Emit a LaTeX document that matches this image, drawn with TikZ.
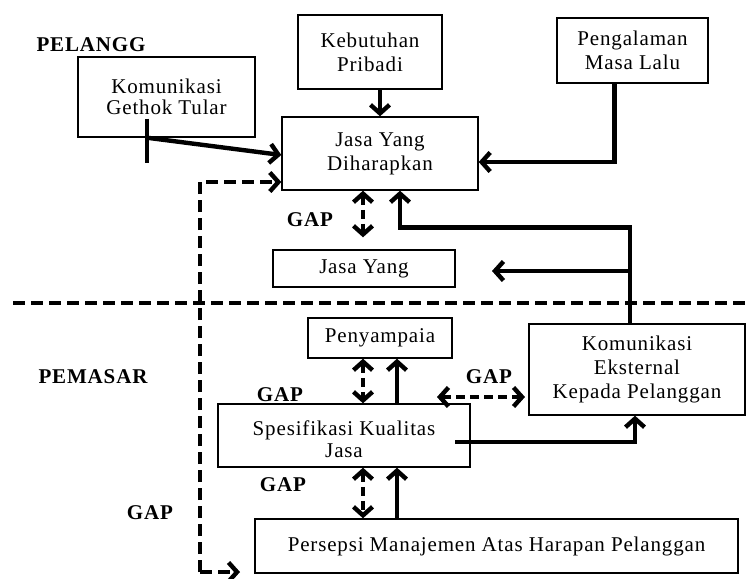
\documentclass[tikz,border=0pt]{standalone}
\usepackage{fontspec}
\setmainfont{Liberation Serif}[LetterSpace=4]
\usetikzlibrary{arrows.meta,calc}
\begin{document}
\begin{tikzpicture}[x=1pt,y=-1pt,
  box/.style={draw, line width=1.4pt, inner sep=0pt, align=center,
    font=\fontsize{21}{24}\selectfont},
  txt/.style={inner sep=0pt, align=center, font=\fontsize{21}{24}\selectfont},
  lbl/.style={inner sep=0pt, font=\fontsize{21}{24}\selectfont\bfseries},
  tip/.tip={Straight Barb[length=8.5pt,width=19pt]},
  arr/.style={line width=4.4pt, -tip},
  darr/.style={line width=4.4pt, dash pattern=on 9pt off 5pt, tip-tip},
  dline/.style={line width=4.4pt, dash pattern=on 12pt off 6pt}
]
\fill[white] (0,0) rectangle (748,579);
\useasboundingbox (0,0) rectangle (748,579);

% boxes
\node[box, minimum width=177pt, minimum height=80pt] (gethok) at (166.5,97) {Komunikasi\\[-3pt]Gethok Tular};
\node[box, minimum width=144pt, minimum height=74pt] (kebutuhan) at (370,52) {Kebutuhan\\Pribadi};
\node[box, minimum width=151pt, minimum height=65pt] (pengalaman) at (632.5,50.5) {Pengalaman\\Masa Lalu};
\node[box, minimum width=196pt, minimum height=73pt] (harap) at (380,153.5) {Jasa Yang\\Diharapkan};
\node[box, minimum width=182pt, minimum height=37pt] (rasa) at (364,268.5) {Jasa Yang};
\node[box, minimum width=144pt, minimum height=40pt] (sampai) at (380,338) {Penyampaia};
\node[box, minimum width=216pt, minimum height=91pt] (eksternal) at (637,369.5) {Komunikasi\\Eksternal\\Kepada Pelanggan};
\node[box, minimum width=252pt, minimum height=63pt] (spes) at (344,435.5) {};
\node[txt] (spestext) at (344,439) {Spesifikasi Kualitas\\[-2pt]Jasa};
\node[box, minimum width=483pt, minimum height=54pt] (persepsi) at (496.5,546) {Persepsi Manajemen Atas Harapan Pelanggan};

% labels
\node[lbl] (pelanggan) at (91,45) {PELANGG};
\node[lbl] (pemasar) at (93,377) {PEMASAR};
\node[lbl] (gap1) at (310,220) {GAP};
\node[lbl] (gap2) at (280,395) {GAP};
\node[lbl] (gap3) at (283,485) {GAP};
\node[lbl] (gap4) at (150,513) {GAP};
\node[lbl] (gap5) at (489,377) {GAP};

% helper coordinates
\coordinate (gx) at (363,0);
\coordinate (sx) at (397,0);
\coordinate (ex) at ($(eksternal.north)+(-7pt,0)$);
\coordinate (pk) at ($(pengalaman.south)+(-18pt,0)$);
\coordinate (gt) at ($(gethok.south)+(-19.5pt,0)$);
\coordinate (dl) at (200,572);
\coordinate (dp) at (240,572);
\coordinate (hl) at (13,303);
\coordinate (hr) at (748,303);
\coordinate (ga) at (437,397);
\coordinate (gb) at (525,397);
\coordinate (s1) at (455,442);
\coordinate (r1) at (492,271);

% separator
\draw[dline] (hl) -- (hr);

% top connectors
\draw[arr] (kebutuhan.south -| harap.north) -- (harap.north);
\draw[arr] (pk) |- ([yshift=-8.5pt]harap.east);
\draw[line width=4.4pt] ([yshift=19pt]gt) -- ([yshift=-25pt]gt);
\draw[arr] (gt) -- ([yshift=-1.5pt]harap.west);
\draw[dline, -tip] (dl) -- (200,182) -- ([yshift=-28.5pt]harap.west);
\draw[dline, -tip] (dl) -- (dp);
\draw[darr] (gx |- harap.south) -- ([yshift=12pt]gx |- rasa.north);
\draw[arr] (ex) -- ++(0,-96) -| ([xshift=20pt]harap.south);
\draw[arr] (ex |- r1) -- (r1);

% bottom connectors
\draw[darr] (gx |- sampai.south) -- (gx |- spes.north);
\draw[arr] (sx |- spes.north) -- (sx |- sampai.south);
\draw[darr] (gx |- spes.south) -- (gx |- persepsi.north);
\draw[arr] (sx |- persepsi.north) -- (sx |- spes.south);
\draw[darr] (ga) -- (gb);
\draw[arr] (s1) -| ([xshift=-2pt]eksternal.south);
\end{tikzpicture}
\end{document}
